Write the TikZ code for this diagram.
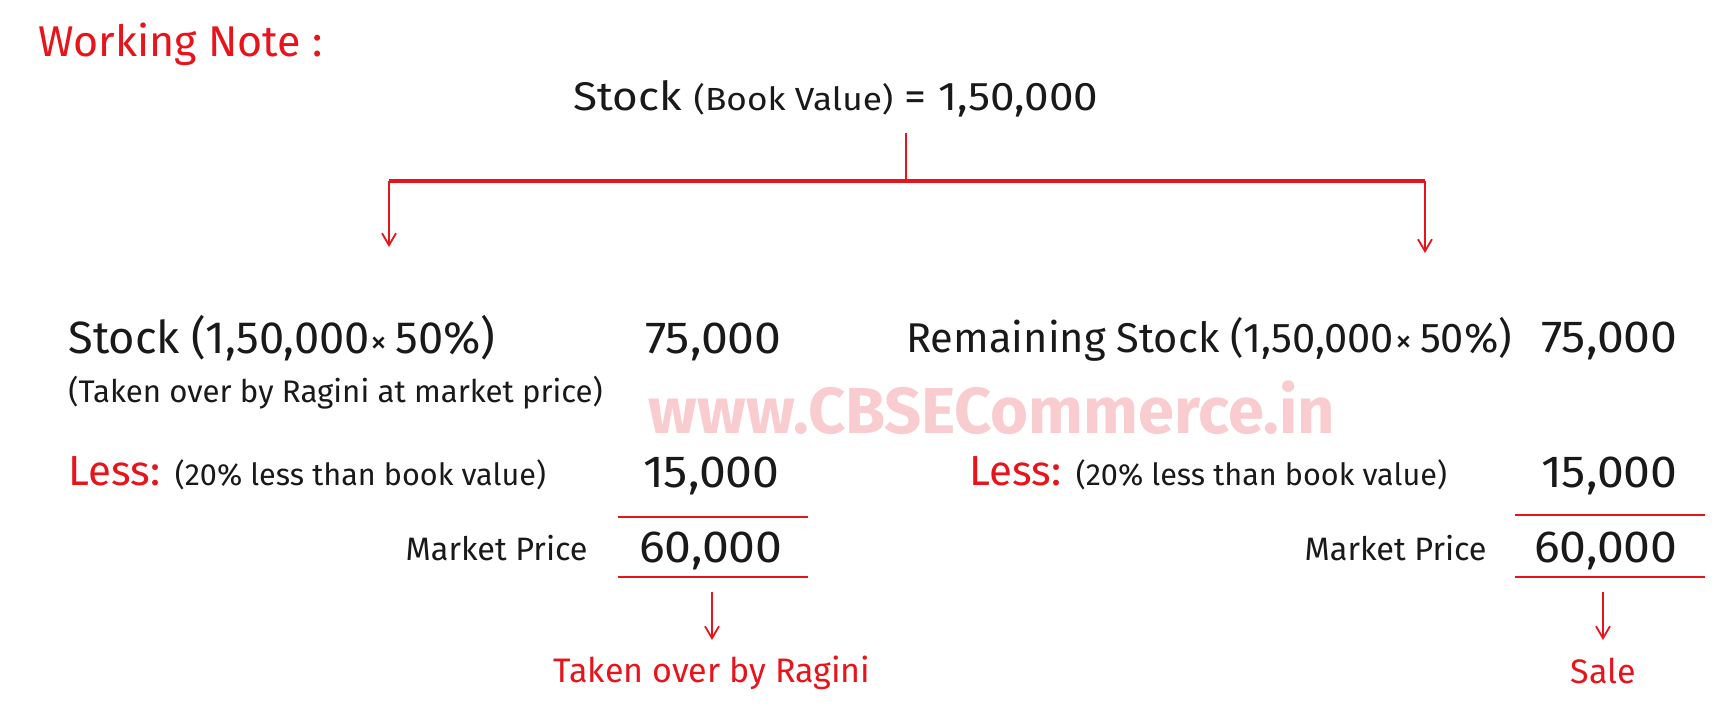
\documentclass[tikz,border=0pt]{standalone}
\usepackage{fontspec}
\setmainfont{Fira Sans}
\usetikzlibrary{arrows.meta}
\definecolor{myred}{RGB}{232,20,28}
\definecolor{wmpink}{RGB}{249,205,207}
\definecolor{ink}{RGB}{25,25,25}
\tikzset{
  txt/.style={inner sep=0pt, text=ink},
  big/.style={txt, font=\fontsize{21}{25}\selectfont},
  num/.style={txt, font=\fontsize{22.5}{26}\selectfont},
  mid/.style={txt, font=\fontsize{15.6}{18}\selectfont},
  redtxt/.style={inner sep=0pt, text=myred},
  rline/.style={draw=myred, line width=1pt},
  rarrow/.style={draw=myred, line width=0.9pt, -{Straight Barb[length=6pt,width=7pt]}},
}
\newcommand{\tms}{{\fontsize{17}{17}\selectfont\kern0.5pt×\kern4pt}}
\newcommand{\wnum}[1]{\scalebox{1.07}[1]{#1}}
\begin{document}
\begin{tikzpicture}[x=0.5pt,y=-0.5pt]
\useasboundingbox[fill=white] (0,0) rectangle (1726,708);
% watermark
\node[inner sep=0pt, text=wmpink, font=\fontsize{32.5}{38}\selectfont\bfseries, anchor=base] (wm) at (992,433) {www.CBSECommerce.in};
% header
\node[redtxt, font=\fontsize{21.5}{25}\selectfont, anchor=base west] (wn) at (38,56) {Working Note :};
\node[txt, anchor=base] (title) at (836,110) {\scalebox{1.1}[1]{\fontsize{20}{24}\selectfont Stock {\fontsize{16}{18}\selectfont (Book Value)} = 1,50,000}};
% branch connectors
\coordinate (top) at (906,133);
\coordinate (br) at (906,181);
\coordinate (bl) at (389,181);
\coordinate (brr) at (1425,181);
\coordinate (tipl) at (389,247);
\coordinate (tipr) at (1425,253);
\draw[rline] (top) -- (br);
\draw[rline, line width=1.6pt] (bl) -- (brr);
\draw[rarrow] (bl) -- (tipl);
\draw[rarrow] (brr) -- (tipr);
% left block
\node[txt, font=\fontsize{22.6}{26}\selectfont, anchor=base west] (s1) at (68,353) {Stock (1,50,000\tms 50\%)};
\node[num, anchor=base east] (v1) at (782,353) {\wnum{75,000}};
\node[mid, anchor=base west] (t1) at (68,402) {(Taken over by Ragini at market price)};
\node[big, anchor=base west] (l1) at (68,485) {\textcolor{myred}{Less:} {\fontsize{15.3}{18}\selectfont (20\% less than book value)}};
\node[num, anchor=base east] (n1) at (780,487) {\wnum{15,000}};
\coordinate (u1a) at (618,517);
\coordinate (u1b) at (808,517);
\draw[rline] (u1a) -- (u1b);
\node[txt, font=\fontsize{16.2}{18}\selectfont, anchor=base east] (mp1) at (588,560) {Market Price};
\node[num, anchor=base east] (m1) at (783,562) {\wnum{60,000}};
\coordinate (w1a) at (618,577);
\coordinate (w1b) at (808,577);
\draw[rline] (w1a) -- (w1b);
\coordinate (a1s) at (712,592);
\coordinate (a1e) at (712,640);
\draw[rarrow] (a1s) -- (a1e);
\node[redtxt, font=\fontsize{17}{20}\selectfont, anchor=base] (rag) at (712,682) {Taken over by Ragini};
% right block
\node[txt, font=\fontsize{20.8}{25}\selectfont, anchor=base west] (s2) at (906,352) {Remaining Stock (1,50,000\tms 50\%)};
\node[num, anchor=base east] (v2) at (1678,352) {\wnum{75,000}};
\node[big, anchor=base west] (l2) at (969,485) {\textcolor{myred}{Less:} {\fontsize{15.3}{18}\selectfont (20\% less than book value)}};
\node[num, anchor=base east] (n2) at (1678,487) {\wnum{15,000}};
\coordinate (u2a) at (1515,515);
\coordinate (u2b) at (1705,515);
\draw[rline] (u2a) -- (u2b);
\node[txt, font=\fontsize{16.2}{18}\selectfont, anchor=base east] (mp2) at (1487,560) {Market Price};
\node[num, anchor=base east] (m2) at (1678,562) {\wnum{60,000}};
\coordinate (w2a) at (1515,577);
\coordinate (w2b) at (1705,577);
\draw[rline] (w2a) -- (w2b);
\coordinate (a2s) at (1603,592);
\coordinate (a2e) at (1603,640);
\draw[rarrow] (a2s) -- (a2e);
\node[redtxt, font=\fontsize{17}{20}\selectfont, anchor=base] (sale) at (1603,683) {Sale};
\end{tikzpicture}
\end{document}
